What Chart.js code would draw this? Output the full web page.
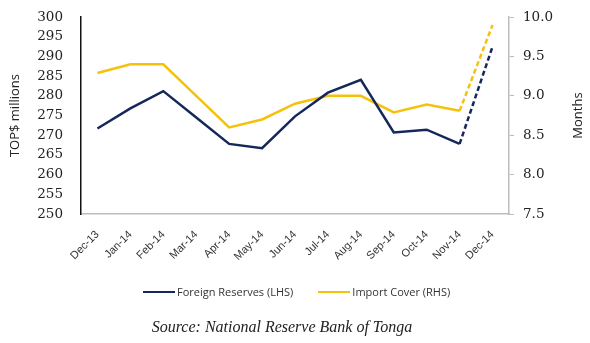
<!DOCTYPE html>
<html>
<head>
<meta charset="utf-8">
<script src="https://cdn.jsdelivr.net/npm/chart.js@4"></script>
<style>
  body { margin: 0; background: #fff; }
  #wrap { position: relative; width: 590px; height: 343px; }
  #legend { position: absolute; left: 143px; top: 284px; display: flex; font: 11px "Open Sans", sans-serif; color: #333; }
  #legend .item { display: flex; align-items: center; margin-right: 25px; }
  #legend .swatch { width: 32px; height: 2px; margin-right: 2px; }
  #source { position: absolute; left: 0; width: 564px; top: 318px; text-align: center; font: italic 16px "Liberation Serif", serif; color: #222; }
</style>
</head>
<body>
<div id="wrap">
  <canvas id="lineChart" width="590" height="343"></canvas>
  <div id="legend"></div>
  <div id="source">Source: National Reserve Bank of Tonga</div>
</div>
<script>
const months = ['Dec-13', 'Jan-14', 'Feb-14', 'Mar-14', 'Apr-14', 'May-14', 'Jun-14',
  'Jul-14', 'Aug-14', 'Sep-14', 'Oct-14', 'Nov-14', 'Dec-14'];
const foreignReserves = [271.7, 276.8, 281.2, 274.5, 267.8, 266.7, 274.8, 280.8, 284.1, 270.7, 271.4, 267.8, 292.5];
const importCover = [9.29, 9.40, 9.40, 9.0, 8.60, 8.70, 8.90, 9.0, 9.0, 8.79, 8.89, 8.81, 9.90];

const navy = '#15285b';
const gold = '#f4c20d';

// last segment (Nov -> Dec) is a projection, drawn dashed
const dashLast = ctx => ctx.p1DataIndex === months.length - 1 ? [5, 3] : undefined;

// rotated axis titles, both reading bottom to top
const axisTitles = {
  id: 'axisTitles',
  afterDraw(chart) {
    const c = chart.ctx;
    const mid = (chart.chartArea.top + chart.chartArea.bottom) / 2;
    c.save();
    c.font = '13px "Open Sans", sans-serif';
    c.fillStyle = '#222';
    c.textAlign = 'center';
    c.textBaseline = 'middle';
    [[15, 'TOP$ millions'], [578, 'Months']].forEach(([x, text]) => {
      c.save();
      c.translate(x, mid);
      c.rotate(-Math.PI / 2);
      c.fillText(text, 0, 0);
      c.restore();
    });
    c.restore();
  }
};

const ctx = document.getElementById('lineChart').getContext('2d');

const chart = new Chart(ctx, {
  type: 'line',
  data: {
    labels: months,
    datasets: [
      {
        label: 'Foreign Reserves (LHS)',
        data: foreignReserves,
        borderColor: navy,
        backgroundColor: navy,
        borderWidth: 2.5,
        pointRadius: 0,
        tension: 0,
        yAxisID: 'y',
        segment: { borderDash: dashLast }
      },
      {
        label: 'Import Cover (RHS)',
        data: importCover,
        borderColor: gold,
        backgroundColor: gold,
        borderWidth: 2.5,
        pointRadius: 0,
        tension: 0,
        yAxisID: 'y1',
        segment: { borderDash: dashLast }
      }
    ]
  },
  options: {
    responsive: false,
    animation: false,
    layout: { padding: { top: 17, bottom: 79, left: 0, right: 0 } },
    plugins: {
      legend: { display: false },
      tooltip: { enabled: false }
    },
    scales: {
      x: {
        offset: true,
        grid: { display: false },
        border: { color: '#bdbdbd', width: 1.5 },
        ticks: {
          minRotation: 45,
          maxRotation: 45,
          padding: 6,
          color: '#333',
          font: { family: 'Liberation Sans', size: 11 }
        },
        afterFit: scale => { scale.height = 50; }
      },
      y: {
        position: 'left',
        min: 250,
        max: 300,
        // invisible tick marks keep the labels away from the axis line
        grid: { drawOnChartArea: false, color: 'transparent', tickLength: 15 },
        border: { color: '#111', width: 1.5 },
        ticks: {
          stepSize: 5,
          autoSkip: false,
          padding: 3,
          color: '#222',
          font: { family: 'DejaVu Serif', size: 13.5 }
        },
        afterFit: scale => { scale.width = 81; }
      },
      y1: {
        position: 'right',
        min: 7.5,
        max: 10,
        grid: { drawOnChartArea: false, color: '#bdbdbd', tickLength: 5 },
        border: { color: '#bdbdbd', width: 1.5 },
        ticks: {
          stepSize: 0.5,
          autoSkip: false,
          padding: 9,
          color: '#222',
          font: { family: 'DejaVu Serif', size: 13.5 },
          callback: v => v.toFixed(1)
        },
        afterFit: scale => { scale.width = 81; }
      }
    }
  },
  plugins: [axisTitles]
});

// legend drawn as html, taken from the datasets
const legend = document.getElementById('legend');
chart.data.datasets.forEach(ds => {
  const item = document.createElement('div');
  item.className = 'item';
  item.innerHTML = `<span class="swatch" style="background:${ds.borderColor}"></span><span>${ds.label}</span>`;
  legend.appendChild(item);
});
</script>
</body>
</html>
